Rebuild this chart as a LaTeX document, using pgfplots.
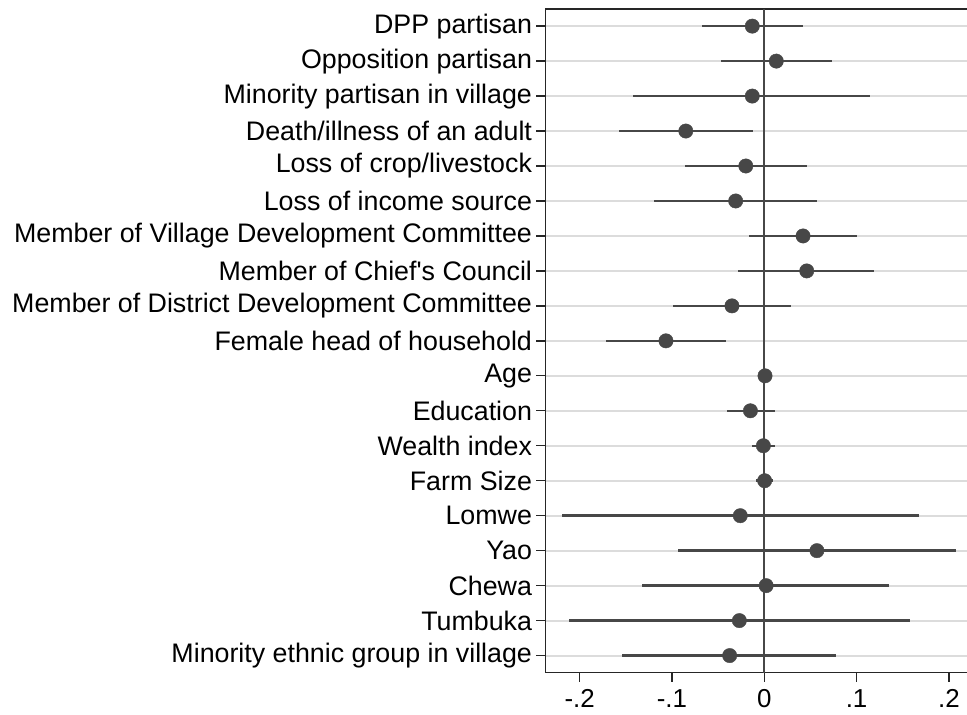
\documentclass[border=0pt]{standalone}
\usepackage{pgfplots}
\pgfplotsset{compat=1.18}
\usepackage{pgfplotstable}
\usepackage{fontspec}
\setmainfont{Liberation Sans}
\definecolor{dotc}{HTML}{474747}
\definecolor{gridc}{HTML}{DCDCDC}

\pgfplotstableread{
y  est      lo      hi
1  -0.013  -0.067   0.042
2   0.013  -0.047   0.073
3  -0.013  -0.142   0.115
4  -0.085  -0.157  -0.012
5  -0.020  -0.086   0.046
6  -0.031  -0.120   0.057
7   0.042  -0.017   0.100
8   0.046  -0.028   0.119
9  -0.035  -0.099   0.029
10 -0.1065 -0.171  -0.0415
11  0.0008 -0.002   0.003
12 -0.015  -0.040   0.012
13 -0.001  -0.013   0.012
14  0.0004 -0.009   0.0098
15 -0.026  -0.219   0.168
16  0.057  -0.094   0.208
17  0.002  -0.132   0.135
18 -0.027  -0.212   0.158
19 -0.0375 -0.154   0.078
}\coefs

\begin{document}
\begin{tikzpicture}
\begin{axis}[
  name=ax, at={(0,0)}, anchor=south west,
  scale only axis, width=421.5bp, height=663.7bp,
  xmin=-0.237, xmax=0.2196,
  ymin=0.51, ymax=19.49, y dir=reverse,
  axis x line*=box, axis y line*=left,
  axis line style={line width=1.3bp, black!85},
  xtick={-0.2,-0.1,0,0.1,0.2},
  xticklabels={-.2,-.1,0,.1,.2},
  ytick={1,...,19},
  yticklabels={DPP partisan,Opposition partisan,Minority partisan in village,Death/illness of an adult,Loss of crop/livestock,Loss of income source,Member of Village Development Committee,Member of Chief\textquotesingle s Council,Member of District Development Committee,Female head of household,Age,Education,Wealth index,Farm Size,Lomwe,Yao,Chewa,Tumbuka,Minority ethnic group in village},
  tick align=outside,
  xtick pos=bottom, ytick pos=left,
  major tick length=9bp,
  tick style={line width=1.3bp, black!85},
  ymajorgrids, grid style={line width=2bp, gridc},
  x tick label style={font=\fontsize{26}{30}\selectfont, yshift=-4bp},
  y tick label style={font=\fontsize{26.9}{30}\selectfont, xshift=-1bp},
  clip=false,
]
\addplot[only marks, mark=none, draw=dotc, line width=2.5bp,
  error bars/.cd, x dir=both, x explicit, error mark=none,
  error bar style={line width=2.5bp, dotc}]
  table[x=est, y=y, x error plus expr=\thisrow{hi}-\thisrow{est}, x error minus expr=\thisrow{est}-\thisrow{lo}] {\coefs};
\addplot[dotc, line width=2bp] coordinates {(0,0.51) (0,19.49)};
\addplot[only marks, mark=*, mark size=7.2bp, dotc, mark options={draw=dotc, fill=dotc}]
  table[x=est, y=y] {\coefs};
\end{axis}
\pgfresetboundingbox
\path[use as bounding box] (-545.5bp,-42.3bp) rectangle (421.5bp,672.7bp);
\end{tikzpicture}
\end{document}
